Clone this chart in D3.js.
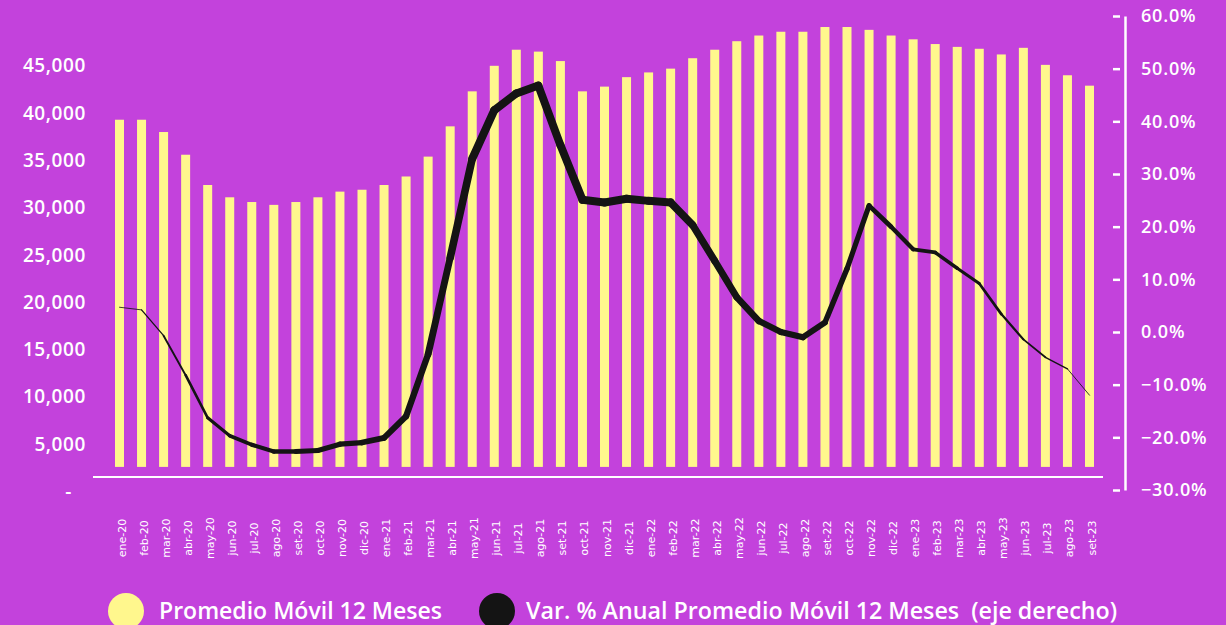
<!DOCTYPE html>
<meta charset="utf-8">
<script src="https://d3js.org/d3.v7.min.js"></script>
<style>
  html, body { margin: 0; padding: 0; background: #c342dc; }
  svg { display: block; }
</style>
<div id="chart"></div>
<script>
// month labels (x axis)
var months = ["ene","feb","mar","abr","may","jun","jul","ago","set","oct","nov","dic"];
var years = ["20","21","22","23"];
var categories = [];
years.forEach(function(y) {
  months.forEach(function(m) { categories.push(m + "-" + y); });
});
categories = categories.slice(0, 45); // ene-20 .. set-23

// Promedio Movil 12 Meses (left axis)
var promedio = [39300, 39300, 38000, 35600, 32400, 31100, 30600, 30300, 30600, 31100,
                31700, 31900, 32400, 33300, 35400, 38600, 42300, 45000, 46700, 46500,
                45500, 42300, 42800, 43800, 44300, 44700, 45800, 46700, 47600, 48200,
                48600, 48600, 49100, 49100, 48800, 48200, 47800, 47300, 47000, 46800,
                46200, 46900, 45100, 44000, 42900];

// Var. % anual (right axis)
var variacion = [4.7, 4.2, -0.7, -8.2, -16.3, -19.7, -21.4, -22.7, -22.7, -22.5,
                 -21.3, -21.0, -20.1, -16.0, -4.2, 14.1, 32.9, 42.1, 45.3, 46.8,
                 35.5, 25.1, 24.6, 25.3, 24.9, 24.6, 20.3, 13.5, 6.6, 2.1,
                 0.0, -1.0, 1.8, 12.0, 24.0, 20.0, 15.7, 15.1, 12.1, 9.2,
                 3.4, -1.4, -4.8, -7.0, -12.0];

var leftTicks = [0, 5000, 10000, 15000, 20000, 25000, 30000, 35000, 40000, 45000];
var rightTicks = [-30, -20, -10, 0, 10, 20, 30, 40, 50, 60];

var W = 1226, H = 625;
var bg = "#c342dc", barColor = "#fff78d", lineColor = "#141414";

var svg = d3.select("#chart").append("svg")
  .attr("width", W).attr("height", H);

svg.append("rect").attr("width", W).attr("height", H).attr("fill", bg);

var x = d3.scalePoint().domain(categories).range([119.5, 1089.5]);
var yL = d3.scaleLinear().domain([0, 50000]).range([491.5, 18.5]);
var yR = d3.scaleLinear().domain([-30, 60]).range([490, 16]);

var barW = 9;
var barFloor = 2600; // bars start a bit above the left-axis zero

// bars
svg.append("g").selectAll("rect")
  .data(promedio)
  .enter().append("rect")
    .attr("x", function(d, i) { return x(categories[i]) - barW / 2; })
    .attr("y", function(d) { return yL(d); })
    .attr("width", barW)
    .attr("height", function(d) { return yL(barFloor) - yL(d); })
    .attr("fill", barColor);

// white base line
svg.append("line")
  .attr("x1", 93).attr("x2", 1103)
  .attr("y1", 477).attr("y2", 477)
  .attr("stroke", "#fff").attr("stroke-width", 2);

// line with a stroke that swells in the middle
var widthAt = d3.scaleLinear()
  .domain([0, 2, 4, 7, 11, 14, 16, 25, 27, 31, 34, 36, 39, 41, 43, 44])
  .range([0.6, 1.5, 3, 4.5, 5.5, 6.5, 8, 8, 7, 6, 5, 4, 3, 2, 1.2, 0.5]);

var segs = d3.pairs(variacion.map(function(v, i) { return [x(categories[i]), yR(v), i]; }));
svg.append("g").selectAll("line")
  .data(segs)
  .enter().append("line")
    .attr("x1", function(d) { return d[0][0]; })
    .attr("y1", function(d) { return d[0][1]; })
    .attr("x2", function(d) { return d[1][0]; })
    .attr("y2", function(d) { return d[1][1]; })
    .attr("stroke", lineColor)
    .attr("stroke-linecap", "round")
    .attr("stroke-width", function(d) { return widthAt((d[0][2] + d[1][2]) / 2); });

// left axis
var gL = svg.append("g")
  .attr("transform", "translate(86,0)")
  .call(d3.axisLeft(yL).tickValues(leftTicks).tickSize(0).tickPadding(0)
    .tickFormat(function(d) { return d === 0 ? "-" : d3.format(",")(d); }));
gL.select(".domain").remove();
gL.selectAll("text")
  .attr("fill", "#fff")
  .style("font-family", "'Open Sans', sans-serif")
  .style("font-weight", 600)
  .style("font-size", "19px")
  .style("letter-spacing", "0.6px")
  .attr("dx", function(d) { return d === 0 ? -14 : 0; });

// right axis
var gR = svg.append("g")
  .attr("transform", "translate(1125,0)")
  .call(d3.axisRight(yR).tickValues(rightTicks).tickSize(0).tickSizeOuter(0).tickPadding(16)
    .tickFormat(function(d) { return d3.format(".1f")(d) + "%"; }));
gR.select(".domain").attr("stroke", "#fff").attr("stroke-width", 2.5);
gR.selectAll(".tick").append("line")
  .attr("x1", -12).attr("x2", -5)
  .attr("stroke", "#fff").attr("stroke-width", 2.5);
gR.selectAll("text")
  .attr("fill", "#fff")
  .style("font-family", "'Open Sans', sans-serif")
  .style("font-weight", 600)
  .style("font-size", "18px")
  .style("letter-spacing", "0.8px");

// x labels, rotated
var gX = svg.append("g")
  .attr("transform", "translate(0,538)")
  .call(d3.axisBottom(x).tickSize(0).tickPadding(0));
gX.select(".domain").remove();
gX.selectAll("text")
  .attr("fill", "#fff")
  .attr("y", 0).attr("dy", null)
  .attr("transform", "translate(2,0) rotate(-90)")
  .attr("text-anchor", "middle")
  .attr("dominant-baseline", "central")
  .style("font-family", "'DejaVu Sans', sans-serif")
  .style("font-size", "11px");

// legend
var legend = [
  {label: "Promedio Móvil 12 Meses", color: barColor, cx: 126, tx: 159, len: 283},
  {label: "Var. % Anual Promedio Móvil 12 Meses  (eje derecho)", color: lineColor, cx: 497, tx: 526, len: 591}
];
var lg = svg.append("g").selectAll("g").data(legend).enter().append("g");
lg.append("circle")
  .attr("cx", function(d) { return d.cx; })
  .attr("cy", 611).attr("r", 18)
  .attr("fill", function(d) { return d.color; });
lg.append("text")
  .attr("x", function(d) { return d.tx; })
  .attr("y", 619)
  .attr("fill", "#fff")
  .attr("textLength", function(d) { return d.len; })
  .attr("lengthAdjust", "spacingAndGlyphs")
  .style("white-space", "pre")
  .style("font-family", "'Open Sans', sans-serif")
  .style("font-weight", 600)
  .style("font-size", "23px")
  .text(function(d) { return d.label; });
</script>
